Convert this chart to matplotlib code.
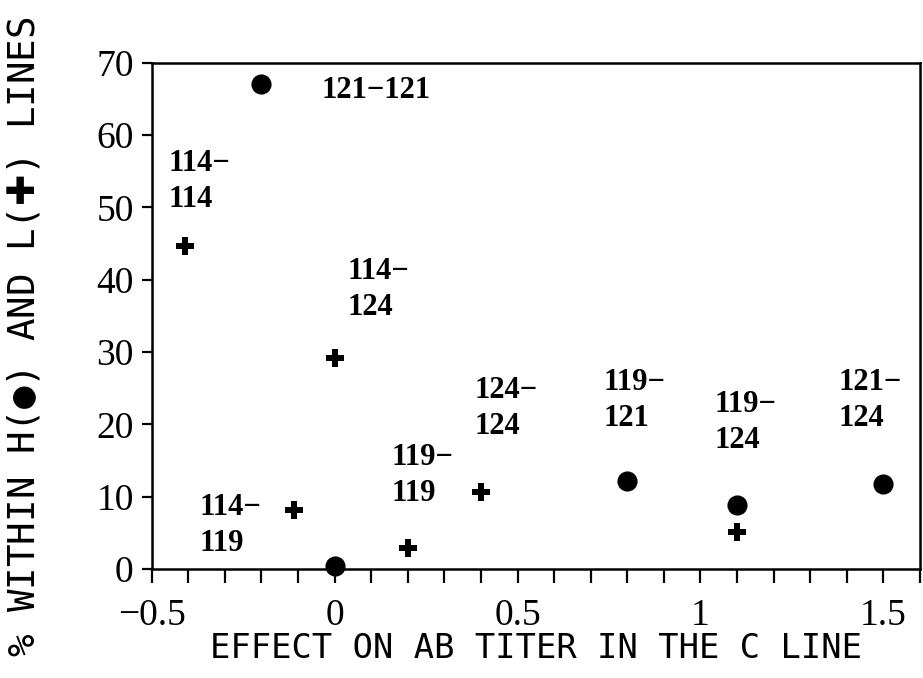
import matplotlib
matplotlib.use("Agg")
import matplotlib.pyplot as plt
from matplotlib.ticker import MultipleLocator, FuncFormatter

# ---- data ----
h_x = [-0.2, 0.0, 0.8, 1.1, 1.5]
h_y = [67.0, 0.4, 12.2, 8.9, 11.8]
l_x = [-0.41, 0.0, -0.11, 0.2, 0.4, 1.1]
l_y = [44.7, 29.2, 8.2, 2.9, 10.6, 5.1]

labels = ["121\u2212121", "114\u2212\n114", "114\u2212\n124", "114\u2212\n119",
          "119\u2212\n119", "124\u2212\n124", "119\u2212\n121", "119\u2212\n124",
          "121\u2212\n124"]
# label anchor positions (left edge, vertical centre) in data coords
label_x = [-0.036, -0.455, 0.035, -0.37, 0.155, 0.383, 0.735, 1.038, 1.378]
label_y = [66.1, 53.6, 38.6, 6.0, 12.9, 22.2, 23.3, 20.3, 23.3]

x_ticks = [-0.5, 0, 0.5, 1, 1.5]
y_ticks = [0, 10, 20, 30, 40, 50, 60, 70]

xlabel = "EFFECT ON AB TITER IN THE C LINE"
ylabel = "% WITHIN H(\u25cf) AND L($\\mathrm{\u271a}$) LINES"

# ---- figure ----
plt.rcParams["mathtext.fontset"] = "dejavusans"
fig = plt.figure(figsize=(9.23, 6.78), dpi=100)
ax = fig.add_axes([0.1644, 0.1608, 0.9967 - 0.1644, 0.9075 - 0.1608])

ax.plot(h_x, h_y, linestyle="none", marker="o", markersize=13.5,
        color="black", clip_on=False, zorder=3)
ax.plot(l_x, l_y, linestyle="none", marker="P", markersize=13,
        color="black", markeredgewidth=0, clip_on=False, zorder=3)

serif = ["Liberation Serif", "DejaVu Serif"]
for t, x, y in zip(labels, label_x, label_y):
    ax.text(x, y, t, ha="left", va="center", family=serif, fontsize=22,
            fontweight="bold", linespacing=1.32, multialignment="left")

ax.set_xlim(-0.5, 1.6)
ax.set_ylim(0, 70)
ax.set_xticks(x_ticks)
ax.xaxis.set_minor_locator(MultipleLocator(0.1))
ax.set_yticks(y_ticks)
ax.xaxis.set_major_formatter(FuncFormatter(lambda v, p: ("%g" % v).replace("-", "\u2212")))
ax.yaxis.set_major_formatter(FuncFormatter(lambda v, p: "%g" % v))

for s in ax.spines.values():
    s.set_linewidth(1.8)
ax.tick_params(axis="x", which="both", direction="out", length=10, width=1.6,
               pad=11)
ax.tick_params(axis="y", which="major", direction="out", length=7, width=1.6,
               pad=6)
for lab in ax.get_xticklabels() + ax.get_yticklabels():
    lab.set_family(serif)
    lab.set_fontsize(27)

mono = ["DejaVu Sans Mono", "DejaVu Sans"]
ax.set_xlabel(xlabel, family=mono, fontsize=24.3, va="center")
ax.xaxis.set_label_coords(0.5, -0.158)
ax.set_ylabel(ylabel, family=mono, fontsize=27, va="center")
ax.yaxis.set_label_coords(-0.166, 0.458)

fig.savefig("out.png", dpi=100)
